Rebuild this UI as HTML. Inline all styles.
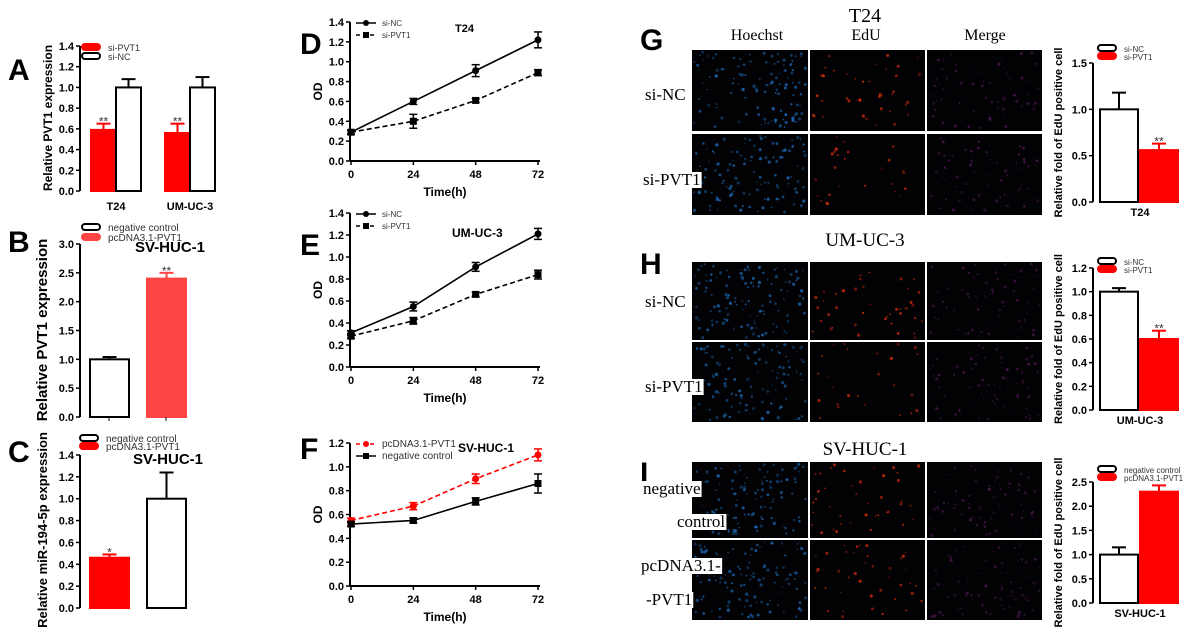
<!DOCTYPE html>
<html><head><meta charset="utf-8"><style>
body{margin:0;background:#fff}
svg{display:block;font-family:"Liberation Sans",Arial,sans-serif}
.tk{font-size:11px;font-weight:bold}
.lt{font-weight:bold;font-size:30px}
</style></head><body>
<svg id="s" width="1200" height="634" viewBox="0 0 1200 634"></svg>
<script>
// ---- data arrays ----
const aCats=["T24","UM-UC-3"];
const aPvt=[0.59,0.56], aPvtErr=[0.06,0.09];
const aNc=[1.0,1.0], aNcErr=[0.08,0.1];
const bVals=[1.0,2.4], bErr=[0.04,0.1];
const cVals=[0.46,1.0], cErr=[0.03,0.24];
const times=[0,24,48,72];
const dNc=[0.29,0.60,0.91,1.22], dNcErr=[0.02,0.03,0.06,0.08];
const dPv=[0.29,0.40,0.61,0.89], dPvErr=[0.02,0.07,0.02,0.03];
const eNc=[0.31,0.55,0.91,1.21], eNcErr=[0.02,0.04,0.04,0.05];
const ePv=[0.28,0.42,0.66,0.84], ePvErr=[0.02,0.03,0.02,0.04];
const fPc=[0.55,0.67,0.90,1.10], fPcErr=[0.02,0.03,0.04,0.05];
const fNeg=[0.52,0.55,0.71,0.86], fNegErr=[0.02,0.02,0.03,0.08];
const gVals=[1.0,0.56], gErr=[0.18,0.07];
const hVals=[1.0,0.6], hErr=[0.03,0.07];
const iVals=[1.0,2.3], iErr=[0.15,0.13];

const S=document.getElementById('s');const NS='http://www.w3.org/2000/svg';
function el(t,a,p){const e=document.createElementNS(NS,t);for(const k in a)e.setAttribute(k,a[k]);(p||S).appendChild(e);return e;}
function txt(x,y,s,a,p){const e=el('text',Object.assign({x:x,y:y},a),p);e.textContent=s;return e;}
function group(name){const g=el('g',{});return g;}

function yAxis(g,x,y0,y1,max,step,dec){
  el('line',{x1:x,y1:y0,x2:x,y2:y1,stroke:'#000','stroke-width':2},g);
  const sc=v=>y0-(y0-y1)*v/max;
  for(let v=0;v<=max+1e-9;v+=step){const y=sc(v);
    el('line',{x1:x-4,y1:y,x2:x,y2:y,stroke:'#000','stroke-width':1.5},g);
    txt(x-6,y+4,v.toFixed(dec),{class:'tk','text-anchor':'end'},g);}
  return sc;
}
function ylabel(g,x,y,s,fs){txt(x,y,s,{transform:`rotate(-90 ${x} ${y})`,'text-anchor':'middle','font-weight':'bold','font-size':fs||13},g);}
function bar(g,x,w,v,err,sc,fill,star){
  const b=el('rect',{x:x,y:sc(v),width:w,height:sc(0)-sc(v),fill:fill,stroke:fill=='#fff'?'#000':fill,'stroke-width':2},g);
  
  const c=x+w/2,col=fill=='#fff'?'#000':fill;
  el('line',{x1:c,y1:sc(v),x2:c,y2:sc(v+err),stroke:col,'stroke-width':2},g);
  el('line',{x1:c-7,y1:sc(v+err),x2:c+7,y2:sc(v+err),stroke:col,'stroke-width':2},g);
  if(star)txt(c,sc(v+err)+2,star,{'text-anchor':'middle','font-size':12,fill:'#333'},g);
}
function legBar(g,x,y,fill,label,fs){
  el('rect',{x:x,y:y-4,width:18,height:6,rx:3,fill:fill,stroke:fill=='#fff'?'#000':fill,'stroke-width':2},g);
  txt(x+26,y+3,label,{'font-size':fs||9,fill:'#333'},g);
}
// Panel A
{const g=group('panel-a');txt(8,80,'A',{class:'lt'},g);
 const sc=yAxis(g,80,191,46,1.4,0.2,1);ylabel(g,52,118,'Relative PVT1 expression',12);
 const xs=[91,165];
 for(let i=0;i<aCats.length;i++){bar(g,xs[i],25,aPvt[i],aPvtErr[i],sc,'#f00','**');bar(g,xs[i]+25,25,aNc[i],aNcErr[i],sc,'#fff');
  txt(xs[i]+25,210,aCats[i],{class:'tk','text-anchor':'middle','font-size':12},g);}
 legBar(g,82,48,'#f00','si-PVT1');legBar(g,82,57,'#fff','si-NC');}
// Panel B
{const g=group('panel-b');txt(8,252,'B',{class:'lt'},g);
 const sc=yAxis(g,80,417,244,3.0,0.5,1);ylabel(g,47,330,'Relative PVT1 expression',15);
 bar(g,90,39,bVals[0],bErr[0],sc,'#fff');bar(g,147,39,bVals[1],bErr[1],sc,'#f44','**');
 el('line',{x1:109,y1:417,x2:109,y2:421,stroke:'#000'},g);el('line',{x1:166,y1:417,x2:166,y2:421,stroke:'#000'},g);
 legBar(g,82,228,'#fff','negative control',10);legBar(g,82,238,'#f44','pcDNA3.1-PVT1',10);
 txt(135,252,'SV-HUC-1',{'font-weight':'bold','font-size':15},g);}
// Panel C
{const g=group('panel-c');txt(8,462,'C',{class:'lt'},g);
 const sc=yAxis(g,80,608,455,1.4,0.2,1);ylabel(g,47,530,'Relative miR-194-5p expression',13);
 bar(g,90,39,cVals[0],cErr[0],sc,'#f00','*');bar(g,147,39,cVals[1],cErr[1],sc,'#fff');
 legBar(g,80,439,'#fff','negative control',10);legBar(g,80,447,'#f00','pcDNA3.1-PVT1',10);
 txt(133,464,'SV-HUC-1',{'font-weight':'bold','font-size':15},g);}
// line panels
function linePanel(name,letter,ly,y0,y1,max,series,title,tx,ty,legs){
  const g=group(name);txt(300,ly,letter,{class:'lt'},g);
  const sc=yAxis(g,350,y0,y1,max,0.2,1);
  el('line',{x1:350,y1:y0,x2:540,y2:y0,stroke:'#000','stroke-width':2},g);
  const xs=t=>351+(538-351)*t/72;
  times.forEach(t=>{el('line',{x1:xs(t),y1:y0,x2:xs(t),y2:y0+4,stroke:'#000','stroke-width':1.5},g);
    txt(xs(t),y0+17,String(t),{class:'tk','text-anchor':'middle'},g);});
  txt(445,y0+35,'Time(h)',{'font-weight':'bold','font-size':12,'text-anchor':'middle'},g);
  ylabel(g,322,(y0+y1)/2,'OD',12);
  series.forEach((s,k)=>{
    const pts=s.v.map((v,i)=>xs(times[i])+','+sc(v)).join(' ');
    const pl=el('polyline',{points:pts,fill:'none',stroke:s.c,'stroke-width':1.6,'stroke-dasharray':s.d?'5,3':'none'},g);
    
    s.v.forEach((v,i)=>{const x=xs(times[i]);
      el('line',{x1:x,y1:sc(v-s.e[i]),x2:x,y2:sc(v+s.e[i]),stroke:s.c,'stroke-width':1.5},g);
      el('line',{x1:x-4,y1:sc(v-s.e[i]),x2:x+4,y2:sc(v-s.e[i]),stroke:s.c,'stroke-width':1.5},g);
      el('line',{x1:x-4,y1:sc(v+s.e[i]),x2:x+4,y2:sc(v+s.e[i]),stroke:s.c,'stroke-width':1.5},g);
      const m=s.m=='c'?el('circle',{cx:x,cy:sc(v),r:3.5,fill:s.c},g):el('rect',{x:x-3.5,y:sc(v)-3.5,width:7,height:7,fill:s.c},g);
      });
    const lyy=y1+k*12+1;
    el('line',{x1:356,y1:lyy,x2:376,y2:lyy,stroke:s.c,'stroke-width':1.5,'stroke-dasharray':s.d?'4,3':'none'},g);
    if(s.m=='c')el('circle',{cx:366,cy:lyy,r:3,fill:s.c},g);else el('rect',{x:363,y:lyy-3,width:6,height:6,fill:s.c},g);
    txt(382,lyy+3,legs[k],{'font-size':legs[k].length>8?10:8,fill:'#333'},g);});
  txt(tx,ty,title,{'font-weight':'bold','font-size':title=='T24'?11:12},g);
}
linePanel('panel-d','D',54,161,22,1.4,[{v:dNc,e:dNcErr,c:'#000',m:'c'},{v:dPv,e:dPvErr,c:'#000',m:'s',d:1}],'T24',455,32,['si-NC','si-PVT1']);
linePanel('panel-e','E',255,367,213,1.4,[{v:eNc,e:eNcErr,c:'#000',m:'c'},{v:ePv,e:ePvErr,c:'#000',m:'s',d:1}],'UM-UC-3',452,237,['si-NC','si-PVT1']);
linePanel('panel-f','F',459,586,443,1.2,[{v:fPc,e:fPcErr,c:'#f00',m:'c',d:1},{v:fNeg,e:fNegErr,c:'#000',m:'s'}],'SV-HUC-1',458,452,['pcDNA3.1-PVT1','negative control']);
// microscopy
let seed=7;function rnd(){seed=(seed*16807)%2147483647;return seed/2147483647;}
function micro(name,x,y,w,h,color,n,rmax,op){const g=group(name);
  el('rect',{x:x,y:y,width:w,height:h,fill:'#020204'},g);
  for(let i=0;i<n;i++)el('circle',{cx:x+2+rnd()*(w-4),cy:y+2+rnd()*(h-4),r:0.7+rnd()*rmax,fill:color,opacity:op*(0.4+rnd()*0.6)},g);}
function microPanel(key,letter,title,ty,rows,rowLabels){
  const g=group('panel-'+key);txt(640,ty+28,letter,{class:'lt'},g);
  txt(865,ty,title,{'font-family':'Liberation Serif','font-size':title=='T24'?20:19,'text-anchor':'middle'},g);
  if(letter=='G'){txt(757,40,'Hoechst',{'font-family':'Liberation Serif','font-size':16,'text-anchor':'middle'},g);
   txt(866,40,'EdU',{'font-family':'Liberation Serif','font-size':16,'text-anchor':'middle'},g);
   txt(985,40,'Merge',{'font-family':'Liberation Serif','font-size':16,'text-anchor':'middle'},g);}
  rows.forEach((r,i)=>{
    micro(key+'-hoechst-'+i,692,r[0],116,r[1],'#1f6fc0',120,1.0,0.8);
    micro(key+'-edu-'+i,810,r[0],115,r[1],'#e8300c',i==0||key=='i'?40:25,1.0,0.8);
    micro(key+'-merge-'+i,927,r[0],115,r[1],'#6a2070',70,0.9,0.6);});
  const lg=group('row-labels-'+key);
  rowLabels.forEach(l=>{
    const t=txt(l[0],l[1],l[2],{'font-family':'Liberation Serif','font-size':17},lg);
    const b=t.getBBox();
    const r=el('rect',{x:b.x-1,y:b.y+2,width:b.width+2,height:b.height-3,fill:'#fff'},lg);
    lg.insertBefore(r,t);});
}
microPanel('g','G','T24',22,[[50,81],[134,81]],[[645,100,'si-NC'],[643,185,'si-PVT1']]);
microPanel('h','H','UM-UC-3',246,[[262,78],[342,80]],[[645,307,'si-NC'],[645,392,'si-PVT1']]);
microPanel('i','I','SV-HUC-1',455,[[462,76],[540,80]],[[643,494,'negative'],[677,527,'control'],[641,571,'pcDNA3.1-'],[646,605,'-PVT1']]);
// EdU bars
function edu(name,y0,y1,max,vals,err,lab,legs,legY,red,dec){
  const g=group(name);const sc=yAxis(g,1093,y0,y1,max,max>1.3?0.5:0.2,1);
  ylabel(g,1062,(y0+y1)/2,'Relative fold of EdU positive cell',11);
  bar(g,1100,38,vals[0],err[0],sc,red==0?'#f00':'#fff',red==0?'':'');
  bar(g,1140,38,vals[1],err[1],sc,red==1?'#f00':'#fff',vals[1]<vals[0]?'**':'');
  txt(1140,y0+14,lab,{class:'tk','text-anchor':'middle'},g);
  legBar(g,1098,legY,'#fff',legs[0],8);legBar(g,1098,legY+8,'#f00',legs[1],8);
}
edu('panel-g-bar',202,63,1.5,gVals,gErr,'T24',['si-NC','si-PVT1'],49,1);
edu('panel-h-bar',410,268,1.2,hVals,hErr,'UM-UC-3',['si-NC','si-PVT1'],262,1);
edu('panel-i-bar',603,482,2.5,iVals,iErr,'SV-HUC-1',['negative control','pcDNA3.1-PVT1'],470,1);
</script>
</body></html>
